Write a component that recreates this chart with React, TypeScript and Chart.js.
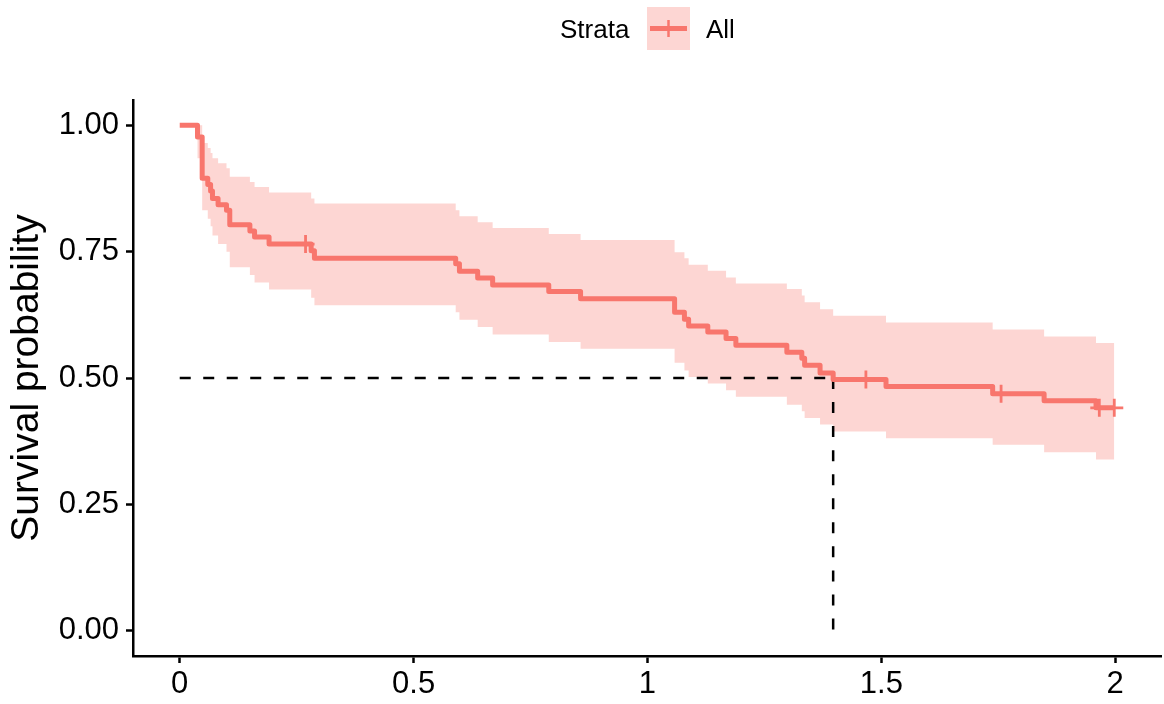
import React, { useEffect, useRef } from "react";
import { Chart, registerables } from "chart.js";

Chart.register(...registerables);

// ---- data ----
const eventTimes = [
  0, 0.038, 0.048, 0.06, 0.066, 0.07, 0.082, 0.1, 0.107, 0.15,
  0.16, 0.191, 0.281, 0.288, 0.59, 0.598, 0.637, 0.669, 0.789, 0.857,
  1.058, 1.079, 1.088, 1.129, 1.168, 1.189, 1.298, 1.33, 1.336, 1.369,
  1.397, 1.51, 1.738, 1.848, 1.959, 1.998,
];
const survival = [
  1.0, 0.977, 0.895, 0.883, 0.87, 0.855, 0.843, 0.832, 0.803, 0.791,
  0.779, 0.765, 0.752, 0.737, 0.726, 0.711, 0.698, 0.684, 0.671, 0.657,
  0.63, 0.616, 0.603, 0.591, 0.578, 0.565, 0.551, 0.539, 0.525, 0.51,
  0.497, 0.483, 0.469, 0.455, 0.441, 0.441,
];
const upperCI = [
  1.0, 1.0, 0.965, 0.955, 0.945, 0.935, 0.925, 0.915, 0.898, 0.888,
  0.878, 0.867, 0.855, 0.845, 0.832, 0.82, 0.808, 0.797, 0.785, 0.773,
  0.749, 0.737, 0.724, 0.712, 0.699, 0.687, 0.676, 0.663, 0.65, 0.636,
  0.623, 0.61, 0.596, 0.582, 0.569, 0.569,
];
const lowerCI = [
  1.0, 0.935, 0.832, 0.815, 0.8, 0.782, 0.765, 0.75, 0.719, 0.704,
  0.689, 0.675, 0.659, 0.644, 0.63, 0.615, 0.601, 0.586, 0.571, 0.558,
  0.53, 0.515, 0.502, 0.489, 0.476, 0.463, 0.447, 0.434, 0.421, 0.408,
  0.394, 0.381, 0.368, 0.353, 0.339, 0.339,
];
const censorTimes = [0.269, 1.467, 1.756, 1.966, 1.998];
const censorSurvival = [0.765, 0.497, 0.469, 0.441, 0.441];

const medianTime = 1.397;
const medianSurvival = 0.5;

const xTicks = [0, 0.5, 1, 1.5, 2];
const xTickLabels = ["0", "0.5", "1", "1.5", "2"];
const yTicks = [0, 0.25, 0.5, 0.75, 1];
const yTickLabels = ["0.00", "0.25", "0.50", "0.75", "1.00"];

const legendTitle = "Strata";
const strataLabels = ["All"];
const yAxisTitle = "Survival probability";

// ---- styles ----
const FONT = "'Liberation Sans', Arial, Helvetica, sans-serif";
const LINE_COLOR = "#F8766D";
const BAND_COLOR = "rgba(248,118,109,0.3)";

const pts = (xs: number[], ys: number[]) => xs.map((x, i) => ({ x, y: ys[i] }));

export default function App() {
  const ref = useRef<HTMLCanvasElement | null>(null);

  useEffect(() => {
    if (!ref.current) return;

    const legendPlugin = {
      id: "strataLegend",
      afterDraw(chart: any) {
        const ctx = chart.ctx as CanvasRenderingContext2D;
        ctx.save();
        ctx.font = `26px ${FONT}`;
        ctx.fillStyle = "#000";
        ctx.textBaseline = "alphabetic";
        ctx.textAlign = "left";
        ctx.fillText(legendTitle, 560, 37.5);
        // key
        ctx.fillStyle = BAND_COLOR;
        ctx.fillRect(647, 7, 43, 43);
        ctx.strokeStyle = LINE_COLOR;
        ctx.lineWidth = 5;
        ctx.beginPath();
        ctx.moveTo(650, 28.5);
        ctx.lineTo(687, 28.5);
        ctx.stroke();
        ctx.lineWidth = 2.5;
        ctx.beginPath();
        ctx.moveTo(668.5, 20);
        ctx.lineTo(668.5, 37);
        ctx.stroke();
        ctx.fillStyle = "#000";
        ctx.fillText(strataLabels[0], 706, 37.5);
        ctx.restore();
      },
    };

    const zeroPad = (s: any) => {
      s.paddingLeft = 0;
      s.paddingRight = 0;
      s.paddingTop = 0;
      s.paddingBottom = 0;
    };

    const chart = new Chart(ref.current, {
      type: "line",
      data: {
        datasets: [
          {
            label: strataLabels[0],
            data: pts(eventTimes, survival),
            stepped: "before",
            borderColor: LINE_COLOR,
            borderWidth: 5,
            borderJoinStyle: "round",
            pointRadius: 0,
            fill: false,
            order: 1,
          },
          {
            type: "scatter",
            label: "censor",
            data: pts(censorTimes, censorSurvival),
            pointStyle: "cross",
            pointRadius: 9,
            borderColor: LINE_COLOR,
            backgroundColor: LINE_COLOR,
            borderWidth: 2.8,
            showLine: false,
            order: 0,
          },
          {
            label: "median-h",
            data: [
              { x: 0, y: medianSurvival },
              { x: medianTime, y: medianSurvival },
            ],
            borderColor: "#000",
            borderWidth: 2.5,
            borderDash: [11, 12.5],
            pointRadius: 0,
            fill: false,
            order: 2,
          },
          {
            label: "median-v",
            data: [
              { x: medianTime, y: medianSurvival },
              { x: medianTime, y: 0 },
            ],
            borderColor: "#000",
            borderWidth: 2.5,
            borderDash: [11, 13.05],
            pointRadius: 0,
            fill: false,
            order: 3,
          },
          {
            label: "upper",
            data: pts(eventTimes, upperCI),
            stepped: "before",
            borderColor: "rgba(0,0,0,0)",
            borderWidth: 0,
            pointRadius: 0,
            backgroundColor: BAND_COLOR,
            fill: "+1",
            order: 4,
          },
          {
            label: "lower",
            data: pts(eventTimes, lowerCI),
            stepped: "before",
            borderColor: "rgba(0,0,0,0)",
            borderWidth: 0,
            pointRadius: 0,
            fill: false,
            order: 5,
          },
        ],
      } as any,
      options: {
        animation: false,
        responsive: false,
        devicePixelRatio: 1,
        layout: { autoPadding: false, padding: { top: 100, right: 3, bottom: 0, left: 0 } },
        plugins: {
          legend: { display: false },
          tooltip: { enabled: false },
          title: { display: false },
        },
        scales: {
          x: {
            type: "linear",
            min: -0.0999,
            max: 2.0979,
            afterBuildTicks: (s: any) => {
              s.ticks = xTicks.map((v) => ({ value: v }));
            },
            afterFit: (s: any) => {
              s.height = 48;
              zeroPad(s);
            },
            ticks: {
              autoSkip: false,
              maxRotation: 0,
              padding: 3,
              color: "#000",
              font: { size: 31, family: FONT },
              callback: (_v: any, i: number) => xTickLabels[i],
            },
            grid: {
              drawOnChartArea: false,
              drawTicks: true,
              tickLength: 7,
              tickWidth: 2.5,
              tickColor: "#000",
            },
            border: { display: true, color: "#000", width: 2.5 },
          },
          y: {
            type: "linear",
            min: -0.05,
            max: 1.05,
            afterBuildTicks: (s: any) => {
              s.ticks = yTicks.map((v) => ({ value: v }));
            },
            afterFit: (s: any) => {
              s.width = 133;
              zeroPad(s);
            },
            ticks: {
              autoSkip: false,
              padding: 7,
              color: "#000",
              font: { size: 31, family: FONT },
              callback: (_v: any, i: number) => yTickLabels[i],
            },
            grid: {
              drawOnChartArea: false,
              drawTicks: true,
              tickLength: 7,
              tickWidth: 2.5,
              tickColor: "#000",
            },
            border: { display: true, color: "#000", width: 2.5 },
            title: {
              display: true,
              text: yAxisTitle,
              color: "#000",
              font: { size: 39, family: FONT },
              padding: { top: 4, bottom: 0 },
            },
          },
        },
      } as any,
      plugins: [legendPlugin],
    });

    return () => chart.destroy();
  }, []);

  return (
    <div style={{ position: "absolute", left: 0, top: 0, width: 1164, height: 704, background: "#fff" }}>
      <canvas ref={ref} width={1164} height={704} style={{ display: "block" }} />
    </div>
  );
}
